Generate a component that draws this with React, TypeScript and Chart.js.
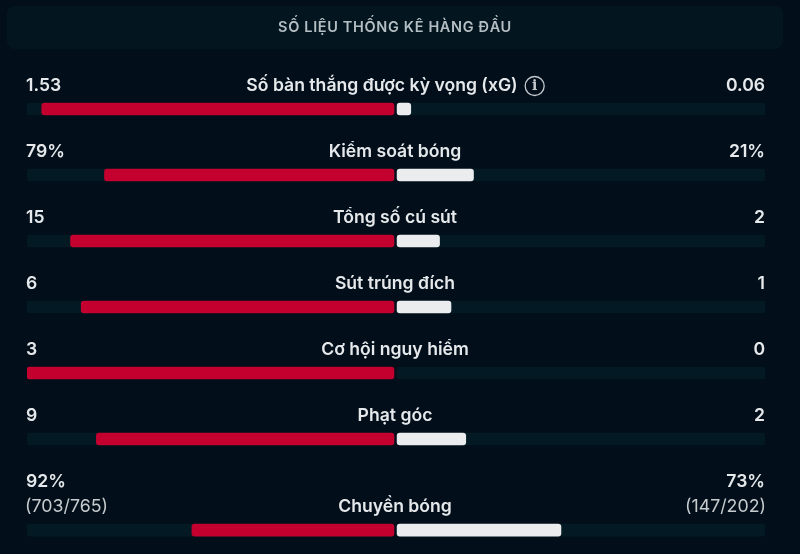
import React, { useEffect, useRef } from "react";
import { Chart, registerables } from "chart.js";

Chart.register(...registerables);

const title = "SỐ LIỆU THỐNG KÊ HÀNG ĐẦU";
const categories = ["Số bàn thắng được kỳ vọng (xG)", "Kiểm soát bóng", "Tổng số cú sút", "Sút trúng đích", "Cơ hội nguy hiểm", "Phạt góc", "Chuyền bóng"];
const homeLabels = ["1.53", "79%", "15", "6", "3", "9", "92%"];
const awayLabels = ["0.06", "21%", "2", "1", "0", "2", "73%"];
const homeDetails = ["", "", "", "", "", "", "(703/765)"];
const awayDetails = ["", "", "", "", "", "", "(147/202)"];
const homeShare = [96, 79, 88.2, 85.3, 100, 81.2, 55.3];
const awayShare = [4, 21, 11.8, 14.9, 0, 18.9, 44.7];

const BG = "#020F1A";
const PANEL = "#03161F";
const TRACK = "#031A24";
const RED = "#C4002F";
const WHITE = "#EBECEE";
const TEXT = "#E6E9EB";
const FONT = "Inter, sans-serif";
const GAP_HOME = 0.55;
const GAP_AWAY = 0.3;
const DETAIL_EXTRA = 0.38;

// Rows with a second text line take a little more vertical room.
const rowIndex: number[] = [];
categories.forEach((_, i) => {
  const prev = i === 0 ? -1 : rowIndex[i - 1];
  rowIndex.push(prev + 1 + (homeDetails[i] ? DETAIL_EXTRA : 0));
});

const floating = (values: number[], sign: number) => {
  const gap = sign < 0 ? GAP_HOME : GAP_AWAY;
  return values.map((v, i) => ({
    x: v > 0 ? [sign * gap, sign * v] : null,
    y: rowIndex[i],
  }));
};

const fullTrack = (sign: number) => floating(categories.map(() => 100), sign);

const barStyle = {
  barThickness: 12,
  borderRadius: 3,
  borderSkipped: false,
  grouped: false,
};

const textPlugin = {
  id: "statText",
  beforeDraw(chart: any) {
    const { ctx, width, height } = chart;
    ctx.save();
    ctx.fillStyle = BG;
    ctx.fillRect(0, 0, width, height);
    ctx.fillStyle = PANEL;
    ctx.beginPath();
    ctx.roundRect(7, 6, 776, 43, 8);
    ctx.fill();
    ctx.restore();
  },
  afterDraw(chart: any) {
    const { ctx, chartArea, scales } = chart;
    const left = chartArea.left;
    const right = chartArea.right;
    const mid = scales.x.getPixelForValue(0);
    ctx.save();
    ctx.textBaseline = "middle";
    ctx.textAlign = "center";
    ctx.fillStyle = "#B4BEC3";
    ctx.font = `600 14.5px ${FONT}`;
    ctx.letterSpacing = "0.65px";
    ctx.fillText(title, mid - 1, 28);
    ctx.letterSpacing = "0px";

    categories.forEach((name, i) => {
      const y = scales.y.getPixelForValue(rowIndex[i]);
      const labelY = y - 23;
      ctx.fillStyle = TEXT;
      ctx.font = `600 17.6px ${FONT}`;
      ctx.textAlign = "center";
      if (i === 0) {
        const w = ctx.measureText(name).width;
        const cx = mid - 14;
        ctx.fillText(name, cx, labelY);
        const ix = cx + w / 2 + 17;
        ctx.strokeStyle = "#C4CACD";
        ctx.lineWidth = 1.3;
        ctx.beginPath();
        ctx.arc(ix, labelY, 9.5, 0, Math.PI * 2);
        ctx.stroke();
        ctx.font = `700 14px "DejaVu Serif", serif`;
        ctx.fillStyle = "#C4CACD";
        ctx.fillText("i", ix, labelY);
      } else {
        ctx.fillText(name, mid - 1, labelY);
      }
      ctx.font = `600 17.6px ${FONT}`;
      ctx.fillStyle = TEXT;
      const valueY = homeDetails[i] ? labelY - 25 : labelY;
      ctx.textAlign = "left";
      ctx.fillText(homeLabels[i], left - 1, valueY);
      ctx.textAlign = "right";
      ctx.fillText(awayLabels[i], right, valueY);
      if (homeDetails[i]) {
        ctx.font = `400 17.8px ${FONT}`;
        ctx.fillStyle = "#C6CBCE";
        ctx.textAlign = "left";
        ctx.fillText(homeDetails[i], left - 2, labelY);
        ctx.textAlign = "right";
        ctx.fillText(awayDetails[i], right + 1, labelY);
      }
    });
    ctx.restore();
  },
};

export default function App() {
  const ref = useRef<HTMLCanvasElement>(null);
  useEffect(() => {
    document.body.style.margin = "0";
    document.body.style.background = BG;
    const chart = new Chart(ref.current!, {
      type: "bar",
      data: {
        datasets: [
          { label: "Nền trái", data: fullTrack(-1), backgroundColor: TRACK, order: 3, ...barStyle },
          { label: "Nền phải", data: fullTrack(1), backgroundColor: TRACK, order: 3, ...barStyle },
          { label: "Đội nhà", data: floating(homeShare, -1), backgroundColor: RED, order: 1, ...barStyle },
          { label: "Đội khách", data: floating(awayShare, 1), backgroundColor: WHITE, order: 1, ...barStyle },
        ],
      } as any,
      options: {
        indexAxis: "y",
        animation: false,
        responsive: false,
        layout: { padding: { left: 27, right: 35, top: 43, bottom: 0 } },
        plugins: { legend: { display: false }, tooltip: { enabled: false }, title: { display: false } },
        scales: {
          x: { type: "linear", min: -100, max: 100, display: false },
          y: { type: "linear", min: -1, max: 6.7424, reverse: true, display: false, offset: false },
        },
      } as any,
      plugins: [textPlugin],
    });
    return () => chart.destroy();
  }, []);
  return <canvas ref={ref} width={800} height={554} style={{ display: "block", width: 800, height: 554 }} />;
}
